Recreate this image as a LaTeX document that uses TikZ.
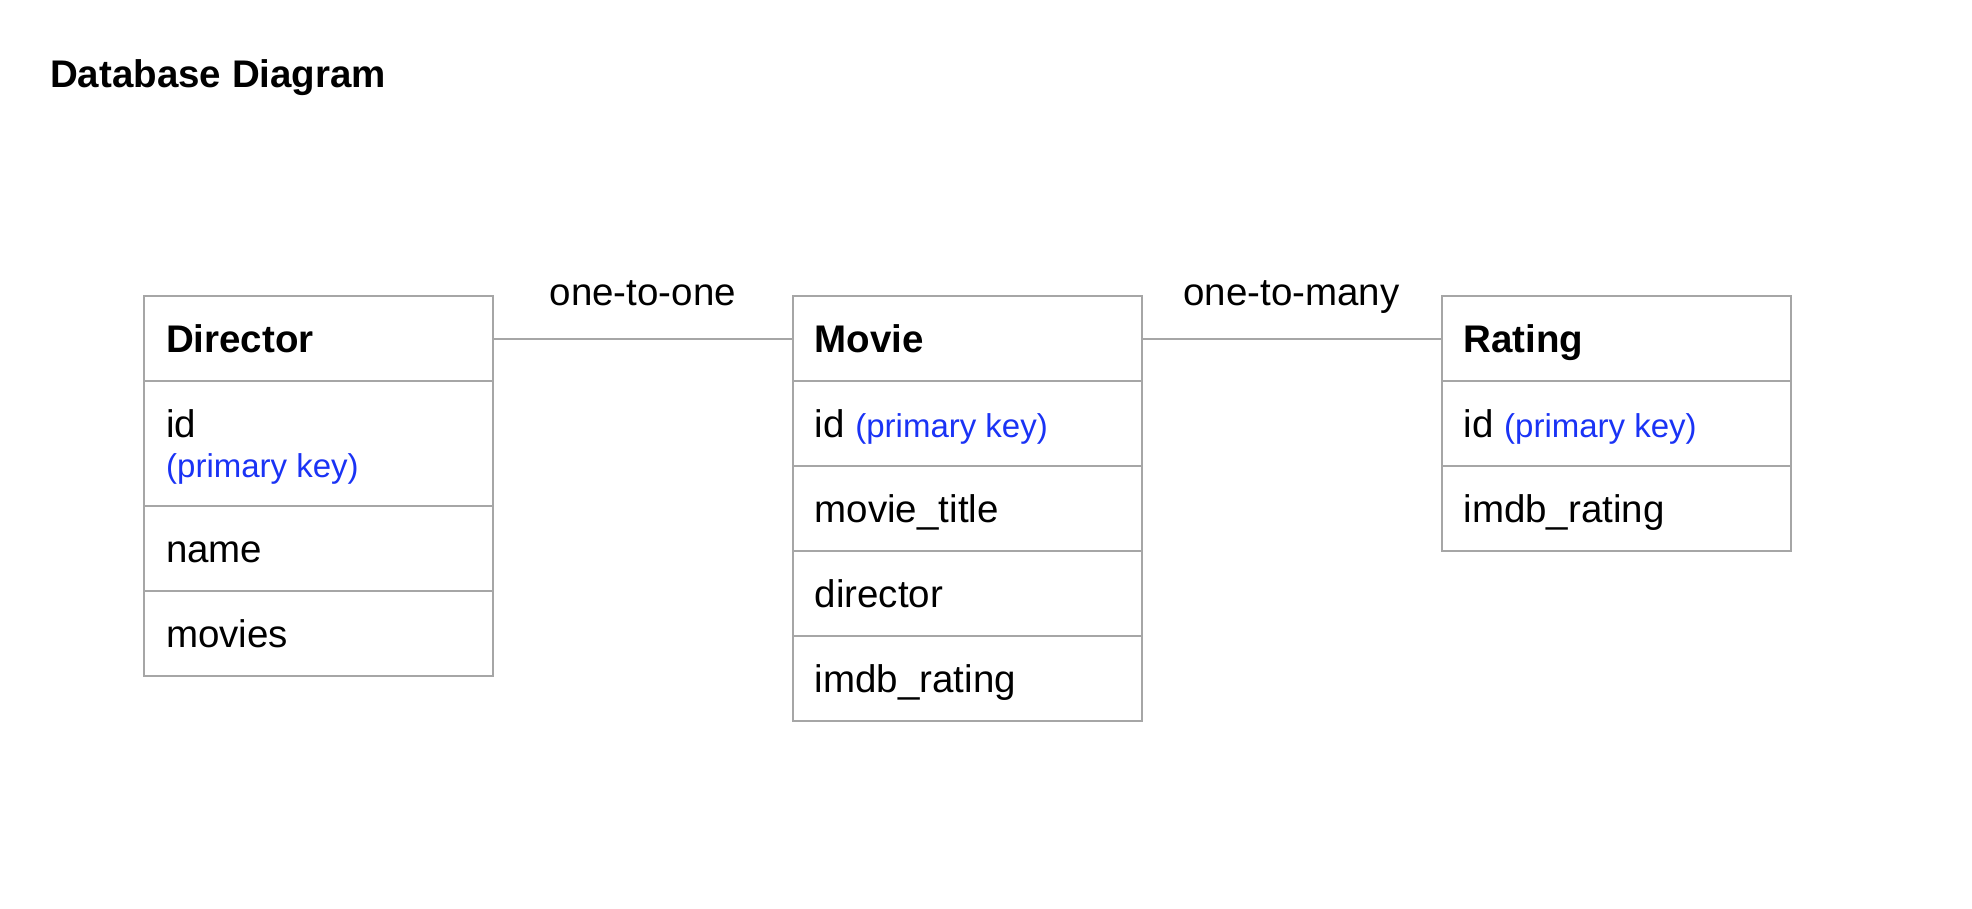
\documentclass[tikz,border=0pt]{standalone}
\usepackage{fontspec}
\setmainfont{Liberation Sans}
\usetikzlibrary{positioning,calc}
\definecolor{linegray}{HTML}{A6A6A6}
\definecolor{pkblue}{HTML}{1A33F5}
\newcommand\regsz{\fontsize{38.5pt}{46pt}\selectfont}
\newcommand\pksz{\fontsize{33pt}{40pt}\selectfont}
\newcommand\pkey[1]{{\pksz\color{pkblue}#1}}
\begin{document}
\begin{tikzpicture}[x=1pt,y=-1pt]
\useasboundingbox (0,0) rectangle (1972,908);
\tikzset{
  rowbox/.style={draw=linegray, line width=2pt, rectangle, outer sep=0pt,
    inner xsep=22pt, inner ysep=0pt, text width=305pt, align=left,
    text height=34pt, text depth=7pt, minimum height=85pt, font=\regsz,
    execute at begin node={\spaceskip=0pt\xspaceskip=0pt}},
  headbox/.style={rowbox, font=\regsz\bfseries},
  txt/.style={inner sep=0pt, font=\regsz},
  pktxt/.style={inner sep=0pt, font=\pksz, text=pkblue},
  conn/.style={draw=linegray, line width=2pt},
  rellabel/.style={inner sep=0pt, font=\regsz, anchor=base},
}

% title
\node[txt, font=\regsz\bfseries, anchor=base west] (title) at (50,87.3) {Database Diagram};

% Director
\node[headbox, anchor=north west] (dh) at (144,296) {Director};
\node[rowbox, minimum height=125pt, below=0pt of dh] (did) {};
\node[rowbox, below=0pt of did] (dname) {name};
\node[rowbox, below=0pt of dname] (dmov) {movies};
\node[txt, anchor=base west] (didt) at ($(did.north west)+(22,56)$) {id};
\node[pktxt, anchor=base west] (didpk) at ($(did.north west)+(22,96)$) {(primary key)};

% Movie
\node[headbox, anchor=north west] (mh) at (792.7,296) {Movie};
\node[rowbox, below=0pt of mh] (mid) {id \pkey{(primary key)}};
\node[rowbox, below=0pt of mid] (mtitle) {movie\_title};
\node[rowbox, below=0pt of mtitle] (mdir) {director};
\node[rowbox, below=0pt of mdir] (mrat) {imdb\_rating};

% Rating
\node[headbox, anchor=north west] (rh) at (1441.5,296) {Rating};
\node[rowbox, below=0pt of rh] (rid) {id \pkey{(primary key)}};
\node[rowbox, below=0pt of rid] (rrat) {imdb\_rating};

% connectors
\draw[conn] (dh.east) -- (mh.west);
\draw[conn] (mh.east) -- (rh.west);

% relationship labels
\node[rellabel] (l1) at ($(dh.north east)!0.5!(mh.north west)+(0,9)$) {one-to-one};
\node[rellabel] (l2) at ($(mh.north east)!0.5!(rh.north west)+(0,9)$) {one-to-many};
\end{tikzpicture}
\end{document}
